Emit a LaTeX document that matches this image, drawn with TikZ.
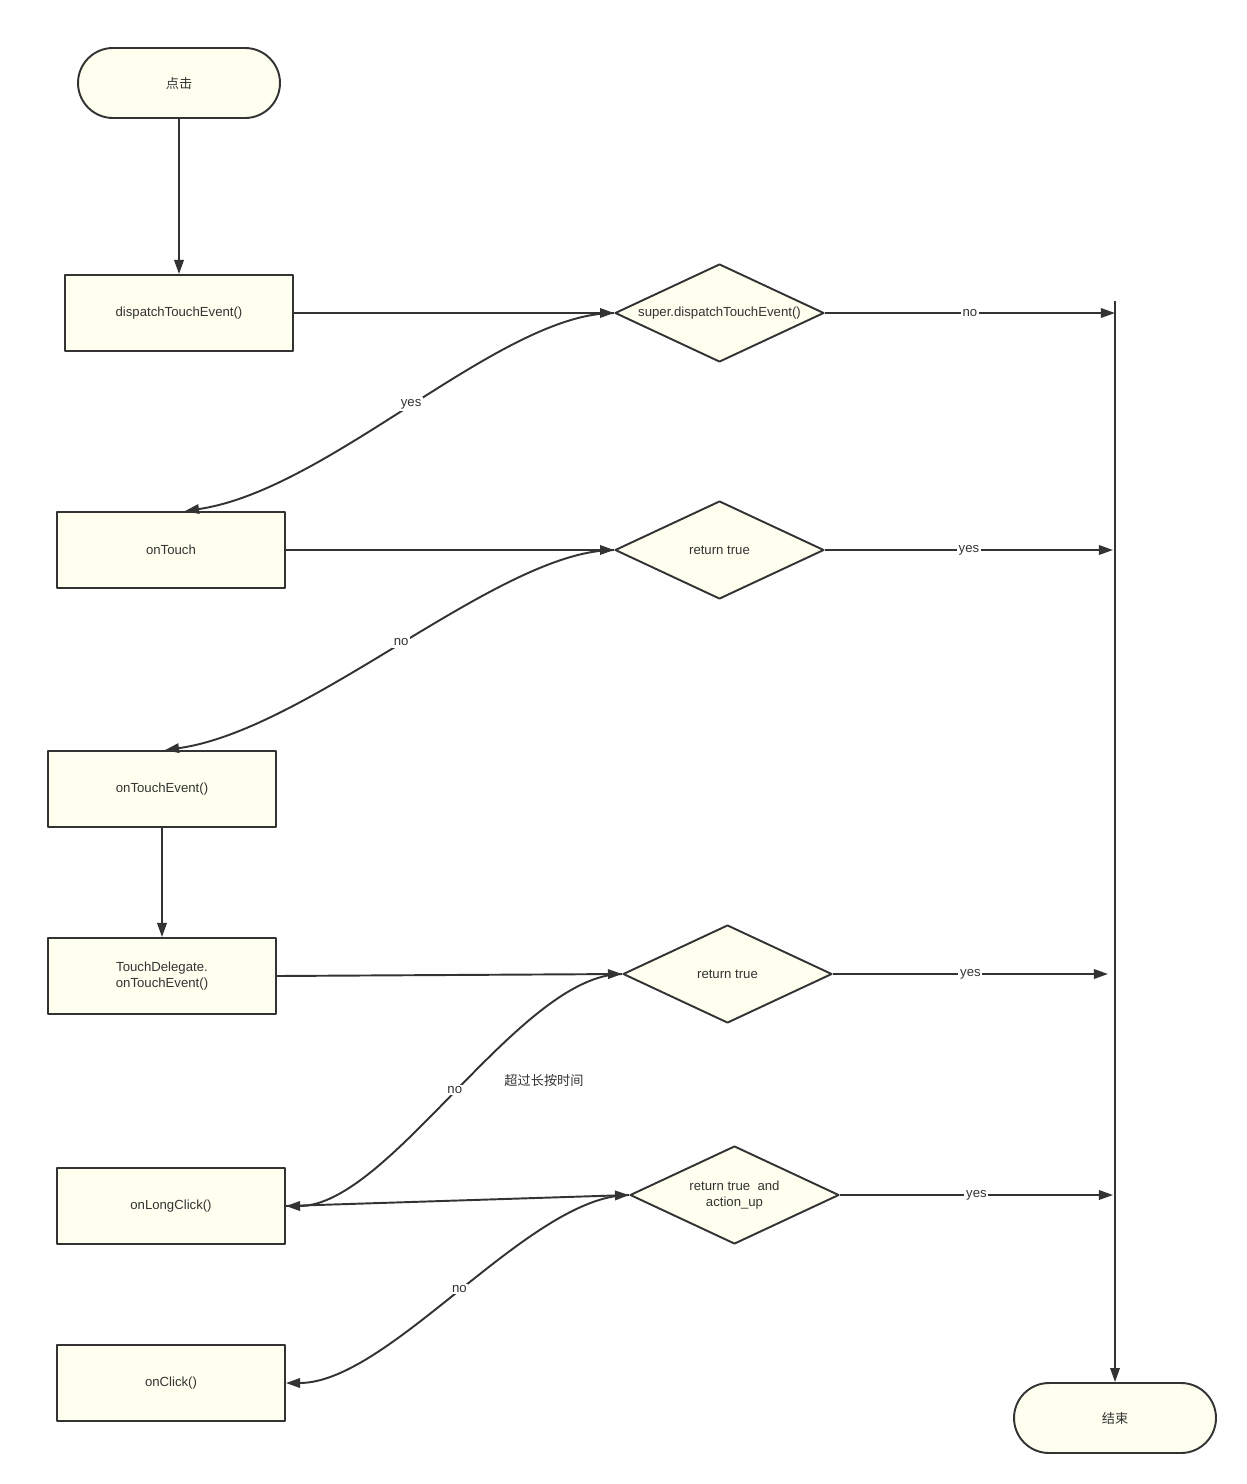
\documentclass[tikz,border=0pt]{standalone}
\usepackage{fontspec}
\setmainfont{Liberation Sans}
\newfontfamily\cjk{Noto Sans CJK SC}
\usetikzlibrary{shapes.geometric,arrows.meta}
\definecolor{boxfill}{HTML}{FFFFF0}
\definecolor{ink}{HTML}{333333}
\tikzset{
	base/.style = {draw = ink, fill = boxfill, line width = 1.1pt, text = ink, font = \fontsize{7.5}{9}\selectfont, align = center, inner sep = 0pt},
	terminal/.style = {base, rectangle, rounded corners = 0.7cm, minimum width = 4.04cm, minimum height = 1.4cm},
	process/.style = {base, rectangle, minimum width = 4.56cm, minimum height = 1.52cm},
	decision/.style = {base, diamond, minimum width = 4.18cm, minimum height = 1.96cm, label = {[text = ink, font = \fontsize{7.5}{9}\selectfont, align = center]center:#1}},
	flow/.style = {draw = ink, line width = 1.1pt, -{Triangle[length = 8pt, width = 5.4pt]}},
	lbl/.style = {fill = white, text = ink, font = \fontsize{7.5}{9}\selectfont, inner sep = 1pt}
}
\begin{document}
\begin{tikzpicture}[x = 0.02cm, y = -0.02cm, line join = round]
	\useasboundingbox (0,0) rectangle (1247,1484);
	% nodes
	\node[terminal] (start) at (179,83) {\cjk 点击};
	\node[process] (dispatch) at (179,313) {dispatchTouchEvent()};
	\node[decision = {super.dispatchTouchEvent()}] (superdisp) at (719.5,313) {};
	\node[process] (ontouch) at (171,550) {onTouch};
	\node[decision = {return true}] (rettrueA) at (719.5,550) {};
	\node[process] (ontouchev) at (162,789) {onTouchEvent()};
	\node[process] (delegate) at (162,976) {TouchDelegate.\\onTouchEvent()};
	\node[decision = {return true}] (rettrueB) at (727.5,974) {};
	\node[process] (longclick) at (171,1206) {onLongClick()};
	\node[decision = {return true~~and\\action\_up}] (rettrueC) at (734.5,1195) {};
	\node[process] (onclick) at (171,1383) {onClick()};
	\node[terminal] (finish) at (1115,1418) {\cjk 结束};
	\node[text = ink, font = \fontsize{7.5}{9}\selectfont\cjk] (longtime) at (544,1080) {超过长按时间};
	% bus line on the right
	\coordinate (bustop) at (1115,301);
	\coordinate (busA) at (1115,313);
	\coordinate (busB) at (1113,550);
	\coordinate (busC) at (1108,974);
	\coordinate (busD) at (1113,1195);
	\draw[flow] (bustop) -- (finish.north);
	% connectors
	\draw[flow] (start) -- (dispatch);
	\draw[flow] (dispatch) -- (superdisp.west);
	\draw[flow] (superdisp.east) -- node[lbl] {no} (busA);
	\draw[flow] (superdisp.west) .. controls (500,313) and (330,490) .. node[lbl] {yes} ([xshift = 0.28cm]ontouch.north);
	\draw[flow] (ontouch) -- (rettrueA.west);
	\draw[flow] (rettrueA.east) -- node[lbl] {yes} (busB);
	\draw[flow] (rettrueA.west) .. controls (500,550) and (310,730) .. node[lbl] {no} ([xshift = 0.06cm]ontouchev.north);
	\draw[flow] (ontouchev) -- (delegate);
	\draw[flow] (delegate.east) -- (rettrueB.west);
	\draw[flow] (rettrueB.east) -- node[lbl] {yes} (busC);
	\draw[flow] (rettrueB.west) .. controls (520,974) and (390,1206) .. node[lbl] {no} (longclick.east);
	\draw[flow] (longclick.east) -- (rettrueC.west);
	\draw[flow] (rettrueC.east) -- node[lbl] {yes} (busD);
	\draw[flow] (rettrueC.west) .. controls (530,1195) and (390,1383) .. node[lbl] {no} (onclick.east);
\end{tikzpicture}
\end{document}
